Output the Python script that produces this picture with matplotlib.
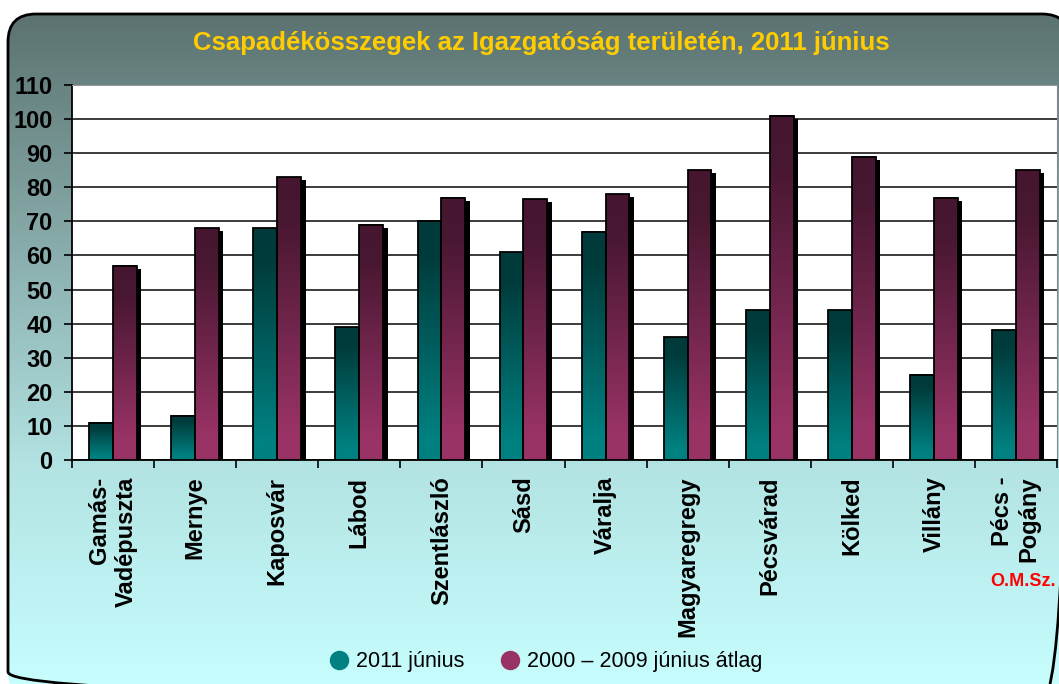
import numpy as np
import matplotlib.pyplot as plt
from matplotlib.colors import LinearSegmentedColormap
from matplotlib.patches import FancyBboxPatch, Rectangle
from matplotlib.lines import Line2D

plt.rcParams['font.family'] = ['Liberation Sans Narrow', 'Liberation Sans', 'DejaVu Sans']

# data
stations = ['Gamás-\nVadépuszta', 'Mernye', 'Kaposvár', 'Lábod', 'Szentlászló', 'Sásd',
            'Váralja', 'Magyaregregy', 'Pécsvárad', 'Kölked', 'Villány', 'Pécs -\nPogány']
junius_2011 = [11, 13, 68, 39, 70, 61, 67, 36, 44, 44, 25, 38]
atlag_2000_2009 = [57, 68, 83, 69, 77, 76.5, 78, 85, 101, 89, 77, 85]
yticks = list(range(0, 111, 10))

W, H = 1059, 684
fig = plt.figure(figsize=(W / 100, H / 100), dpi=100)
fig.patch.set_facecolor('white')

# rounded gradient panel behind everything
bg = fig.add_axes([0, 0, 1, 1])
bg.set_xlim(0, W)
bg.set_ylim(H, 0)
bg.axis('off')
panel_cmap = LinearSegmentedColormap.from_list(
    'panel', [(0, '#5b7270'), (0.66, '#b3e3e3'), (1, '#c8ffff')])
grad = np.linspace(0, 1, 256).reshape(-1, 1)
im = bg.imshow(grad, extent=[8, 1070, 700, 14], cmap=panel_cmap, aspect='auto')
panel = FancyBboxPatch((8, 14), 1062, 686, boxstyle='round,pad=0,rounding_size=28',
                       facecolor='none', edgecolor='black', lw=2)
bg.add_patch(panel)
im.set_clip_path(panel)
bg.set_xlim(0, W)
bg.set_ylim(H, 0)

fig.text(541 / W, 1 - 43 / H, 'Csapadékösszegek az Igazgatóság területén, 2011 június',
         color='#ffcc00', fontsize=18.5, fontweight='bold', ha='center', va='center')

ax = fig.add_axes([72 / W, (H - 460) / H, (1057 - 72) / W, (460 - 85) / H])
ax.set_facecolor('white')

x = np.arange(len(stations))
w = 0.29
teal_cmap = LinearSegmentedColormap.from_list(
    'teal', [(0, '#003a3a'), (0.15, '#003c3c'), (0.9, '#008080'), (1, '#008080')])
purple_cmap = LinearSegmentedColormap.from_list(
    'purple', [(0, '#461630'), (0.15, '#481731'), (0.9, '#993366'), (1, '#993366')])

bars1 = ax.bar(x - w / 2, junius_2011, w, facecolor='none', edgecolor='black', lw=1.3, zorder=5)
bars2 = ax.bar(x + w / 2, atlag_2000_2009, w, facecolor='none', edgecolor='black', lw=1.3, zorder=5)

for bars, cmap in [(bars1, teal_cmap), (bars2, purple_cmap)]:
    for p in bars:
        x0, h, bw = p.get_x(), p.get_height(), p.get_width()
        # drop shadow
        ax.add_patch(Rectangle((x0 + 0.055, 0), bw, h - 0.9, facecolor='black',
                               edgecolor='none', zorder=3))
        ax.imshow(grad, extent=[x0, x0 + bw, 0, h], cmap=cmap, aspect='auto',
                  origin='upper', zorder=4)

ax.set_xlim(-0.5, len(stations) - 0.5)
ax.set_ylim(0, 110)
ax.set_yticks(yticks)
ax.set_yticklabels([str(v) for v in yticks], fontsize=17, fontweight='bold')
ax.yaxis.grid(True, color='#1a1a1a', lw=1.2, zorder=1)
ax.set_axisbelow(True)
ax.tick_params(axis='y', length=6, width=1.2, pad=8, direction='out')

ax.set_xticks(x)
ax.set_xticklabels(stations, rotation=90, fontsize=17, fontweight='bold',
                   va='top', ha='center', multialignment='right')
ax.tick_params(axis='x', which='major', length=0, pad=12)
ax.set_xticks(np.arange(-0.5, len(stations), 1), minor=True)
ax.tick_params(axis='x', which='minor', length=6, width=1.2, direction='out')

for s in ['left', 'bottom']:
    ax.spines[s].set_color('black')
    ax.spines[s].set_linewidth(1.3)
ax.spines['top'].set_color('#999999')
ax.spines['right'].set_color('#888888')

fig.text(1023 / W, 1 - 582 / H, 'O.M.Sz.', color='red', fontsize=13,
         fontweight='bold', ha='center', va='center')

handles = [Line2D([], [], marker='o', ls='none', color='#008080', markersize=13),
           Line2D([], [], marker='o', ls='none', color='#993366', markersize=13)]
fig.legend(handles, ['2011 június', '2000 – 2009 június átlag'],
           loc='center', bbox_to_anchor=(544 / W, 1 - 662 / H), ncol=2, frameon=False,
           prop={'family': ['Liberation Sans', 'DejaVu Sans'], 'size': 15.5},
           handletextpad=0.2, columnspacing=1.5, handlelength=1.2)

fig.savefig('out.png', dpi=100, facecolor='white')
